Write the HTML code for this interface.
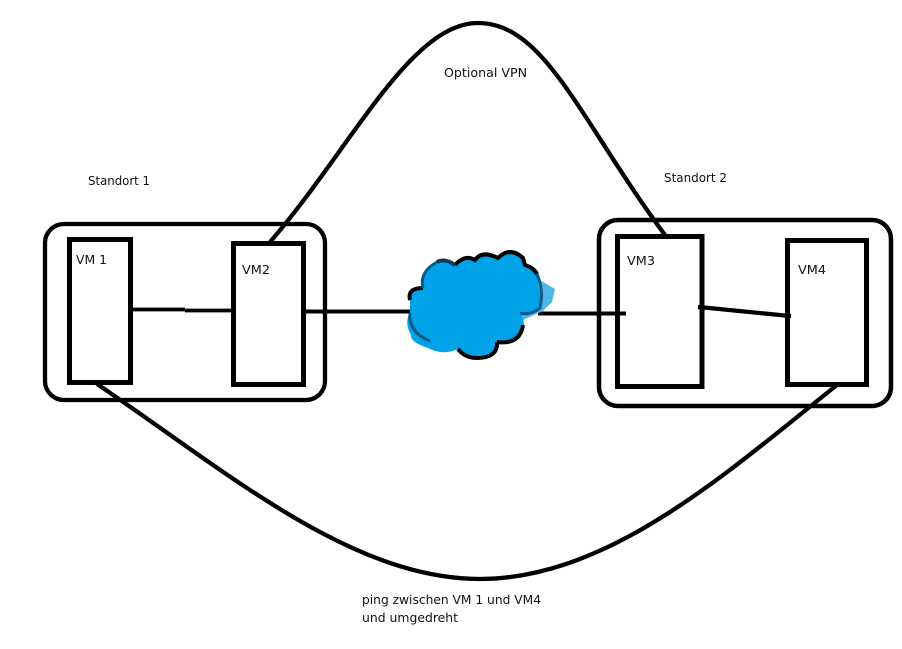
<!DOCTYPE html>
<html><head><meta charset="utf-8"><style>
html,body{margin:0;padding:0;background:#fff;width:902px;height:649px;overflow:hidden}
svg{display:block}
text{font-family:"DejaVu Sans",sans-serif;font-size:12.5px;fill:#111}
</style></head><body>
<svg width="902" height="649" viewBox="0 0 902 649" xmlns="http://www.w3.org/2000/svg">
<rect width="902" height="649" fill="#fff"/>
<g fill="none" stroke="#000" stroke-linecap="butt">
<path d="M270 242C350 150 410 23 478 23C545 23 580 120 665 235" stroke-width="4.300"/>
<path d="M97 384C225 470 350 579 480 579C610 579 730 470 837 385" stroke-width="4.300"/>
<rect x="45" y="224" width="280" height="176" rx="19" stroke-width="4.300"/>
<rect x="599" y="220" width="292" height="186" rx="19" stroke-width="4.500"/>
<path d="M133 309.500H185M185 310.500H233" stroke-width="3.800"/>
<path d="M304 311.500H414" stroke-width="4"/>
<path d="M538 313.500H626" stroke-width="4"/>
<path d="M699 307L790 316" stroke-width="4.200"/>
</g>
<g fill="#fff" stroke="#000" stroke-width="5">
<rect x="69.500" y="239.500" width="61" height="143"/>
<rect x="233.500" y="243.500" width="70" height="141"/>
<rect x="617.500" y="236.500" width="84.500" height="150"/>
<rect x="787.500" y="240.500" width="79" height="144"/>
</g>
<path d="M626 313.500H612" stroke="#000" stroke-width="4"/>
<path d="M698 307L706 307.800" stroke="#000" stroke-width="4.200"/>
<path d="M784 315.500L791 316.200" stroke="#000" stroke-width="4.200"/>
<path d="M538 279L555 289L552 302L543 311L523 320L515 300Z" fill="#4fb7e8"/>
<path d="M410 300Q407 288 423 288Q418 270 440 260Q450 258 455 265Q465 254 475 260Q482 250 498 258Q510 246 523 258L525 265Q540 270 538 287Q545 297 540 310Q530 316 520 313Q528 325 520 338Q510 345 497 342Q498 358 477 358Q465 358 458 349Q443 356 428 348Q410 342 411 335Q404 322 410 313Z" fill="#00a2e8"/>
<g fill="none" stroke="#000" stroke-width="4">
<path d="M455 265Q465 254 475 260Q482 250 498 258Q510 246 523 258L525 265Q534 268 537 274"/>
<path d="M497 342Q498 358 477 358Q465 358 458 349"/>
<path d="M423 288Q407 288 410 300"/>
<path d="M523 325Q520 345 497 342"/>
<path d="M437 262Q445 258 455 265" stroke="#0a3a55"/>
</g>
<g fill="none" stroke="#0a5a85" stroke-width="3">
<path d="M537 274Q544 290 540 308Q530 316 520 313"/>
<path d="M423 288Q419 272 437 262"/>
<path d="M410 313Q408 332 430 341"/>
</g>
<text x="88" y="185" textLength="62" lengthAdjust="spacingAndGlyphs">Standort 1</text>
<text x="664" y="182" textLength="63" lengthAdjust="spacingAndGlyphs">Standort 2</text>
<text x="444" y="77" textLength="83" lengthAdjust="spacingAndGlyphs">Optional VPN</text>
<text x="76" y="264" textLength="31" lengthAdjust="spacingAndGlyphs">VM 1</text>
<text x="242" y="274" textLength="28" lengthAdjust="spacingAndGlyphs">VM2</text>
<text x="627" y="265" textLength="28" lengthAdjust="spacingAndGlyphs">VM3</text>
<text x="798" y="274" textLength="28" lengthAdjust="spacingAndGlyphs">VM4</text>
<text x="362" y="604" textLength="179" lengthAdjust="spacingAndGlyphs">ping zwischen VM 1 und VM4</text>
<text x="362" y="622" textLength="96" lengthAdjust="spacingAndGlyphs">und umgedreht</text>
</svg>
</body></html>
